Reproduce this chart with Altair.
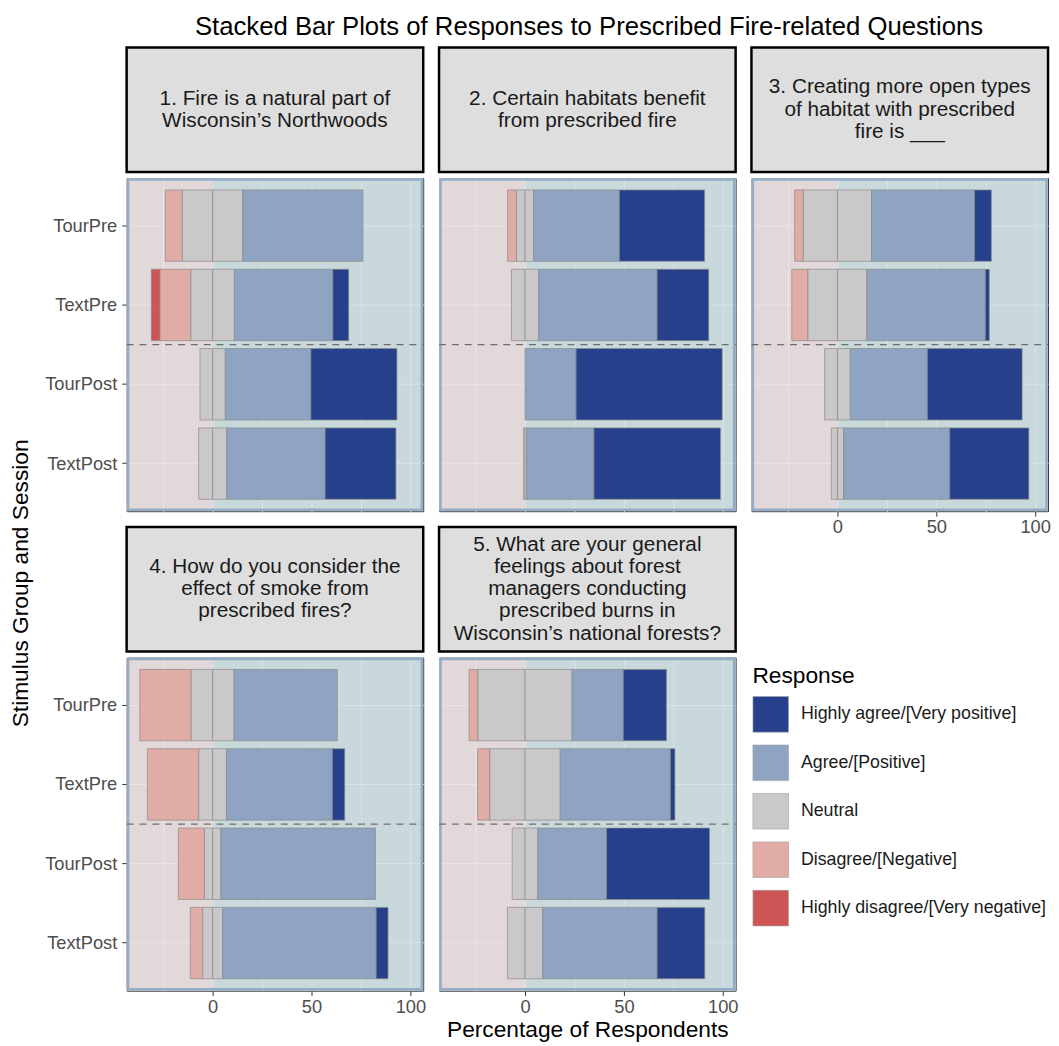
import altair as alt
import pandas as pd

TITLE = "Stacked Bar Plots of Responses to Prescribed Fire-related Questions"
X_TITLE = "Percentage of Respondents"
Y_TITLE = "Stimulus Group and Session"

GROUPS = ["TourPre", "TextPre", "TourPost", "TextPost"]
RESPONSES = ["Highly agree/[Very positive]", "Agree/[Positive]", "Neutral",
             "Disagree/[Negative]", "Highly disagree/[Very negative]"]
COLORS = ["#27408b", "#8ea4c2", "#cbc8ca", "#e0aca5", "#cd5555"]

QUESTIONS = [
    "1. Fire is a natural part of\nWisconsin’s Northwoods",
    "2. Certain habitats benefit\nfrom prescribed fire",
    "3. Creating more open types\nof habitat with prescribed\nfire is ___",
    "4. How do you consider the\neffect of smoke from\nprescribed fires?",
    "5. What are your general\nfeelings about forest\nmanagers conducting\nprescribed burns in\nWisconsin’s national forests?",
]

# Percent of respondents per group, order: TourPre, TextPre, TourPost, TextPost
Q1_HD = [0, 4.3, 0, 0]
Q1_D = [8.7, 15.7, 0, 0]
Q1_N = [30.6, 22.0, 12.8, 14.2]
Q1_A = [60.7, 49.8, 43.3, 49.8]
Q1_HA = [0, 8.0, 43.5, 35.8]

Q2_HD = [0, 0, 0, 0]
Q2_D = [4.5, 0, 0, 0]
Q2_N = [8.6, 13.8, 0, 1.7]
Q2_A = [43.4, 59.9, 25.8, 34.0]
Q2_HA = [43.1, 26.1, 73.9, 64.0]

Q3_HD = [0, 0, 0, 0]
Q3_D = [4.4, 8.2, 0, 0]
Q3_N = [34.5, 29.8, 13.0, 6.2]
Q3_A = [52.1, 59.9, 39.0, 53.7]
Q3_HA = [8.5, 2.0, 47.9, 40.0]

Q4_HD = [0, 0, 0, 0]
Q4_D = [26.0, 26.0, 13.2, 6.3]
Q4_N = [21.7, 14.0, 8.3, 10.0]
Q4_A = [52.2, 53.6, 78.2, 77.7]
Q4_HA = [0, 6.2, 0, 6.0]

Q5_HD = [0, 0, 0, 0]
Q5_D = [4.5, 6.2, 0, 0]
Q5_N = [47.6, 35.6, 13.0, 17.8]
Q5_A = [25.9, 55.7, 34.7, 57.9]
Q5_HA = [21.8, 2.3, 52.1, 24.1]

SERIES = [
    (Q1_HD, Q1_D, Q1_N, Q1_A, Q1_HA),
    (Q2_HD, Q2_D, Q2_N, Q2_A, Q2_HA),
    (Q3_HD, Q3_D, Q3_N, Q3_A, Q3_HA),
    (Q4_HD, Q4_D, Q4_N, Q4_A, Q4_HA),
    (Q5_HD, Q5_D, Q5_N, Q5_A, Q5_HA),
]

GRID_X = [-25, 0, 25, 50, 75, 100]
XMIN, XMAX = -43.5, 106.5

PANEL_W = 300
PANEL_H = 337
STRIP_H = 126
LINE_H = 22.5
STEP = PANEL_H / 4.2

PINK = "#ebdddf"
TEAL = "#cadfe1"
VIEW_FILL = "#c0c0c0"


def build_rows(qi):
    hd, d, n, a, ha = SERIES[qi]
    rows = []
    for gi, g in enumerate(GROUPS):
        half = n[gi] / 2
        segs = [
            (RESPONSES[3], -half - d[gi], -half),
            (RESPONSES[4], -half - d[gi] - hd[gi], -half - d[gi]),
            (RESPONSES[2], -half, 0),
            (RESPONSES[2], 0, half),
            (RESPONSES[1], half, half + a[gi]),
            (RESPONSES[0], half + a[gi], half + a[gi] + ha[gi]),
        ]
        for r, s, e in segs:
            if e - s > 0:
                rows.append({"group": g, "resp": r, "start": s, "end": e})
    return pd.DataFrame(rows)


def x_axis(show, title=None):
    kw = dict(values=GRID_X, grid=True, gridColor="white", gridWidth=1, domain=False)
    if show:
        kw.update(labels=True, ticks=True, labelFontSize=18.5, labelColor="#4d4d4d",
                  labelExpr="datum.value % 50 === 0 ? datum.label : ''",
                  tickOpacity={"condition": {"test": "datum.value % 50 === 0", "value": 1}, "value": 0},
                  tickColor="#333333", tickSize=5, labelPadding=2, labelFlush=False)
        if title:
            kw.update(title=title, titleFontSize=23, titleFontWeight="normal",
                      titleColor="black", titlePadding=3)
    else:
        kw.update(labels=False, ticks=False)
    return alt.Axis(**kw)


def y_axis(show):
    kw = dict(grid=True, gridColor="white", gridWidth=1, domain=False)
    if show:
        kw.update(labels=True, ticks=True, labelFontSize=18.5, labelColor="#4d4d4d",
                  tickColor="#333333", tickSize=5, labelPadding=5)
    else:
        kw.update(labels=False, ticks=False)
    return alt.Axis(**kw)


def panel(qi, show_y, show_x, x_title=None):
    xscale = alt.Scale(domain=[XMIN, XMAX], nice=False, zero=False)
    yscale = alt.Scale(domain=GROUPS, paddingInner=0.1, paddingOuter=0.15)
    xt = x_title if x_title else None
    xax = x_axis(show_x, x_title)
    yax = y_axis(show_y)

    bg_df = pd.DataFrame({"side": ["neg", "pos"], "x0": [XMIN, 0], "x1": [0, XMAX]})
    bg = alt.Chart(bg_df).mark_rect(fillOpacity=0.8).encode(
        x=alt.X("x0:Q", scale=xscale, axis=xax, title=xt),
        x2="x1:Q",
        y=alt.value(0),
        y2=alt.value(PANEL_H),
        fill=alt.Fill("side:N", scale=alt.Scale(domain=["neg", "pos"], range=[PINK, TEAL]), legend=None),
    )
    frame = alt.Chart(bg_df.head(1)).mark_rect(fill="transparent", stroke="#94adc6", strokeWidth=2.5).encode(
        x=alt.value(1.5), x2=alt.value(PANEL_W - 1.5), y=alt.value(1.5), y2=alt.value(PANEL_H - 1.5)
    )
    bars = alt.Chart(build_rows(qi)).mark_bar(stroke="#8a8a8a", strokeWidth=0.7).encode(
        x=alt.X("start:Q", scale=xscale, axis=xax, title=xt),
        x2="end:Q",
        y=alt.Y("group:N", scale=yscale, sort=GROUPS, axis=yax, title=None),
        color=alt.Color("resp:N", scale=alt.Scale(domain=RESPONSES, range=COLORS), legend=None),
    )
    rule = alt.Chart(pd.DataFrame({"group": [GROUPS[2]]})).mark_rule(
        strokeDash=[7, 6], color="#6e6e6e", strokeWidth=1.2, yOffset=-STEP / 2
    ).encode(
        y=alt.Y("group:N", scale=yscale, sort=GROUPS, axis=yax, title=None),
        x=alt.value(0),
        x2=alt.value(PANEL_W),
    )
    return alt.layer(bg, frame, bars, rule).properties(
        width=PANEL_W, height=PANEL_H,
        view=alt.ViewBackground(fill=VIEW_FILL, stroke="#333333", strokeWidth=1),
    )


def strip(qi):
    n_lines = QUESTIONS[qi].count("\n") + 1
    y0 = STRIP_H / 2 - (n_lines - 1) * LINE_H / 2
    return alt.Chart(pd.DataFrame({"label": [QUESTIONS[qi]]})).mark_text(
        fontSize=21, lineHeight=LINE_H, lineBreak="\n", color="#1a1a1a", align="center", baseline="middle"
    ).encode(
        x=alt.value(PANEL_W / 2), y=alt.value(y0), text="label:N"
    ).properties(
        width=PANEL_W, height=STRIP_H,
        view=alt.ViewBackground(fill="#dedede", stroke="black", strokeWidth=2.5),
    )


def facet_cell(qi, show_y, show_x, x_title=None):
    return alt.vconcat(strip(qi), panel(qi, show_y, show_x, x_title), spacing=3)


legend_chart = alt.Chart(pd.DataFrame({"Response": RESPONSES})).mark_square(opacity=0).encode(
    color=alt.Color(
        "Response:N",
        scale=alt.Scale(domain=RESPONSES, range=COLORS),
        legend=alt.Legend(
            title="Response", orient="none", legendX=1, legendY=129,
            symbolType="square", symbolSize=1296, symbolOpacity=1,
            symbolStrokeColor="#a0a0a0", symbolStrokeWidth=0.6,
            labelFontSize=18, labelColor="#1a1a1a", labelOffset=12, labelLimit=400,
            titleFontSize=23, titleFontWeight="normal", titleColor="black", titlePadding=8,
            rowPadding=10,
        ),
    )
).properties(width=PANEL_W, height=420,
             view=alt.ViewBackground(stroke="transparent"))

ytitle = alt.Chart(pd.DataFrame({"t": [Y_TITLE]})).mark_text(
    angle=270, fontSize=23, color="black", align="center", baseline="middle"
).encode(
    x=alt.value(12), y=alt.value(542), text="t:N"
).properties(width=22, height=900, view=alt.ViewBackground(stroke="transparent"))

col1 = alt.vconcat(facet_cell(0, True, False), facet_cell(3, True, True), spacing=13)
col2 = alt.vconcat(facet_cell(1, False, False), facet_cell(4, False, True, X_TITLE), spacing=13)
col3 = alt.vconcat(facet_cell(2, False, True), legend_chart, spacing=0)
col3 = col3.resolve_scale(color="independent").resolve_legend(color="independent")
grid = alt.hconcat(col1, col2, col3, spacing=11)

chart = alt.hconcat(ytitle, grid, spacing=10).properties(
    title=alt.TitleParams(TITLE, fontSize=26, fontWeight="normal", color="black",
                          anchor="middle", dx=60, offset=6),
    padding={"left": 0, "top": 0, "right": 0, "bottom": 0},
).configure(font="Liberation Sans")

chart.save("out.html", embed_options={"renderer": "svg", "actions": False})
